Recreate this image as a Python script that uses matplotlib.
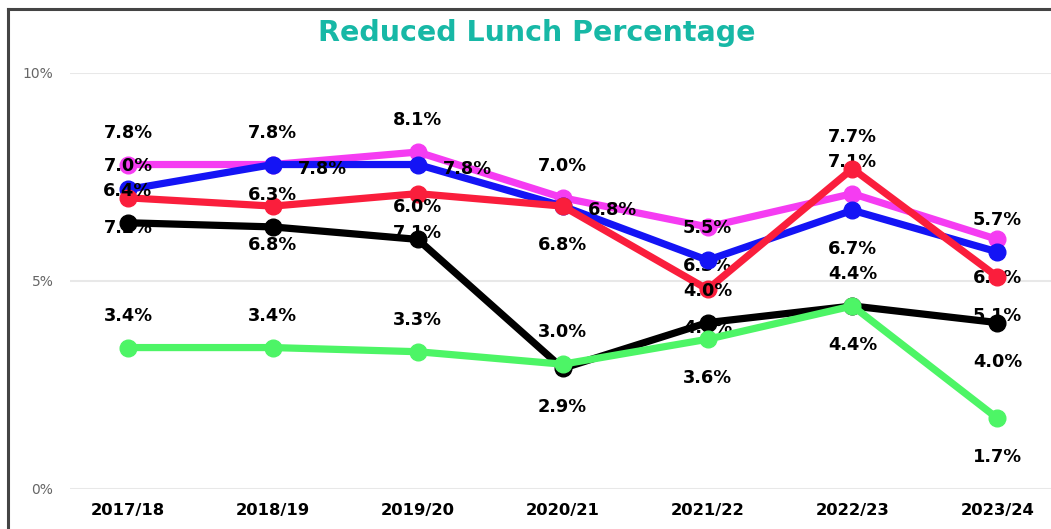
import matplotlib
matplotlib.use('Agg')
import matplotlib.pyplot as plt
from matplotlib.lines import Line2D

# Данные
years = ['2017/18', '2018/19', '2019/20', '2020/21', '2021/22', '2022/23', '2023/24']
pink_vals = [7.8, 7.8, 8.1, 7.0, 6.3, 7.1, 6.0]
blue_vals = [7.2, 7.8, 7.8, 6.8, 5.5, 6.7, 5.7]
red_vals = [7.0, 6.8, 7.1, 6.8, 4.8, 7.7, 5.1]
black_vals = [6.4, 6.3, 6.0, 2.9, 4.0, 4.4, 4.0]
green_vals = [3.4, 3.4, 3.3, 3.0, 3.6, 4.4, 1.7]

# где стоит подпись: a - над точкой, b - под точкой, r - справа
pink_pos = ['a', 'a', 'a', 'a', 'b', 'a', 'b']
blue_pos = ['b', 'r', 'r', 'r', 'a', 'b', 'a']
red_pos = ['a', 'b', 'b', 'b', 'b', 'a', 'b']
black_pos = ['a', 'a', 'a', 'b', 'a', 'a', 'b']
green_pos = ['a', 'a', 'a', 'a', 'b', 'b', 'b']

offsets = {'a': (0, 32), 'b': (0, -39), 'r': (50, -4)}

series = [
    (pink_vals, pink_pos, '#F53CF2'),
    (blue_vals, blue_pos, '#1414F5'),
    (red_vals, red_pos, '#FA1E3C'),
    (black_vals, black_pos, '#000000'),
    (green_vals, green_pos, '#4DF566'),
]

fig = plt.figure(figsize=(10.51, 5.29), dpi=100)
ax = fig.add_axes([70 / 1051, 40 / 529, 981 / 1051, 416 / 529])

x = list(range(len(years)))
z = 3
for vals, pos, color in series:
    ax.plot(x, vals, color=color, linewidth=5.2, marker='o', markersize=12,
            solid_capstyle='round', zorder=z)
    for xi, v, p in zip(x, vals, pos):
        ax.annotate(f'{v:.1f}%', (xi, v), xytext=offsets[p], textcoords='offset pixels',
                    ha='center', va='center', fontsize=12.8, fontweight='bold',
                    color='black', zorder=z + 0.5)
    z += 1

ax.set_xlim(-0.4, 6.37)
ax.set_ylim(0, 10)
ax.set_yticks([0, 5, 10])
ax.set_yticklabels(['0%', '5%', '10%'])
ax.set_xticks(x)
ax.set_xticklabels(years, fontweight='bold', fontsize=11.8)
ax.tick_params(axis='x', length=0, pad=10)
ax.tick_params(axis='y', length=0, pad=12, labelsize=10, labelcolor='#666666')
ax.grid(axis='y', color='#E8E8E8', linewidth=1.5, zorder=0)
ax.set_axisbelow(True)
for s in ax.spines.values():
    s.set_visible(False)

fig.text(0.511, 0.938, 'Reduced Lunch Percentage', ha='center', va='center',
         fontsize=20.5, fontweight='bold', color='#17B8A6')

# рамка сверху и слева
fig.add_artist(Line2D([8 / 1051, 1], [1 - 9 / 529, 1 - 9 / 529], color='#444444', linewidth=2.2))
fig.add_artist(Line2D([8 / 1051, 8 / 1051], [0, 1 - 9 / 529], color='#444444', linewidth=2.2))

plt.savefig('out.png', dpi=100)
